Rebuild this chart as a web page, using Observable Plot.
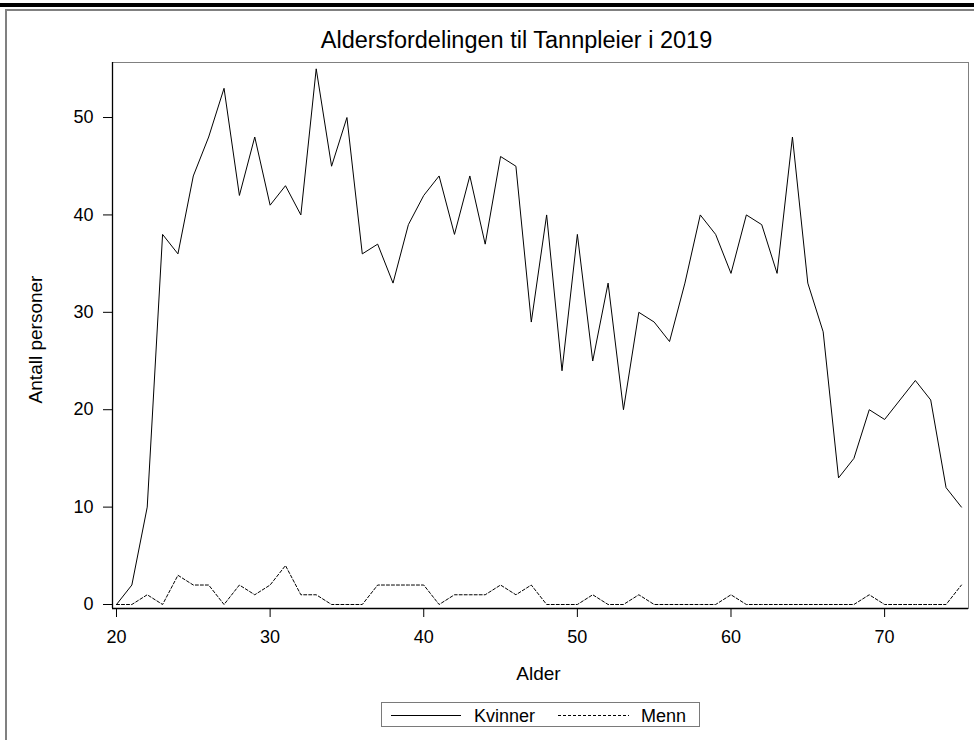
<!DOCTYPE html>
<html>
<head>
<meta charset="utf-8">
<script src="https://cdn.jsdelivr.net/npm/d3@7"></script>
<script src="https://cdn.jsdelivr.net/npm/@observablehq/plot@0.6"></script>
<style>
  html, body { margin: 0; padding: 0; background: #fff; }
  #wrap { position: relative; width: 974px; height: 740px; overflow: hidden; font-family: "Liberation Sans", Arial, sans-serif; }
  #wrap svg { display: block; }
  .bar-top { position: absolute; left: 0; top: 3px; width: 974px; height: 4px; background: #000; }
  .page-border { position: absolute; left: 5px; top: 9px; width: 980px; height: 740px; border-left: 2px solid #808080; border-top: 2px solid #808080; box-sizing: border-box; }
  #legend { position: absolute; left: 381px; top: 702px; width: 319px; height: 25px; border: 1px solid #7a7a7a; box-sizing: border-box; background: #fff; }
  #legend svg { position: absolute; left: 0; top: 0; }
</style>
</head>
<body>
<div id="wrap"></div>
<script>
// ---- Data ----
const titleText = "Aldersfordelingen til Tannpleier i 2019";
const xLabel = "Alder";
const yLabel = "Antall personer";
const seriesNames = ["Kvinner", "Menn"];

const ages = [20,21,22,23,24,25,26,27,28,29,30,31,32,33,34,35,36,37,38,39,40,41,42,43,44,45,46,47,
              48,49,50,51,52,53,54,55,56,57,58,59,60,61,62,63,64,65,66,67,68,69,70,71,72,73,74,75];

const kvinner = [0,2,10,38,36,44,48,53,42,48,41,43,40,55,45,50,36,37,33,39,42,44,38,44,37,46,45,29,
                 40,24,38,25,33,20,30,29,27,33,40,38,34,40,39,34,48,33,28,13,15,20,19,21,23,21,12,10];

const menn = [0,0,1,0,3,2,2,0,2,1,2,4,1,1,0,0,0,2,2,2,2,0,1,1,1,2,1,2,
              0,0,0,1,0,0,1,0,0,0,0,0,1,0,0,0,0,0,0,0,0,1,0,0,0,0,0,2];

const xTicks = [20, 30, 40, 50, 60, 70];
const yTicks = [0, 10, 20, 30, 40, 50];

// ---- Build ----
const kRows = ages.map((a, i) => ({age: a, n: kvinner[i], serie: seriesNames[0]}));
const mRows = ages.map((a, i) => ({age: a, n: menn[i], serie: seriesNames[1]}));

const xDomain = [19.74, 75.46];
const yDomain = [-0.41, 55.65];
const dashes = ["none", "3,2"];

const chart = Plot.plot({
  width: 974,
  height: 740,
  marginLeft: 112,
  marginRight: 6,
  marginTop: 62,
  marginBottom: 132,
  style: {fontFamily: "'Liberation Sans', Arial, sans-serif", fontSize: "18px", color: "#000", background: "#fff", overflow: "visible"},
  x: {domain: xDomain, ticks: xTicks, tickSize: 9, tickPadding: 13, label: null, tickFormat: d => String(d)},
  y: {domain: yDomain, ticks: yTicks, tickSize: 9, tickPadding: 10, label: null, tickFormat: d => String(d)},
  marks: [
    Plot.frame({stroke: "#808080", strokeWidth: 1}),
    Plot.ruleY([yDomain[0]], {stroke: "#000", strokeWidth: 1.3}),
    Plot.ruleX([xDomain[0]], {stroke: "#000", strokeWidth: 1.3}),
    Plot.line(kRows, {x: "age", y: "n", stroke: "#000", strokeWidth: 1, strokeDasharray: dashes[0]}),
    Plot.line(mRows, {x: "age", y: "n", stroke: "#000", strokeWidth: 1, strokeDasharray: dashes[1]}),
    Plot.text([titleText], {text: d => d, frameAnchor: "top", textAnchor: "middle", lineAnchor: "middle", dx: -24, dy: -22, fontSize: 23.5, fill: "#000"}),
    Plot.text([xLabel], {text: d => d, frameAnchor: "bottom", textAnchor: "middle", lineAnchor: "middle", dx: -2, dy: 65, fontSize: 19, fill: "#000"}),
    Plot.text([yLabel], {text: d => d, frameAnchor: "left", textAnchor: "middle", lineAnchor: "middle", rotate: -90, dx: -77, dy: 4, fontSize: 19, fill: "#000"})
  ]
});

const wrap = document.getElementById("wrap");
wrap.appendChild(chart);

const bar = document.createElement("div"); bar.className = "bar-top"; wrap.appendChild(bar);
const pb = document.createElement("div"); pb.className = "page-border"; wrap.appendChild(pb);

// Legend
const legend = document.createElement("div");
legend.id = "legend";
wrap.appendChild(legend);
const lsvg = d3.select(legend).append("svg").attr("width", 319).attr("height", 25)
  .style("font-family", "'Liberation Sans', Arial, sans-serif").style("font-size", "18px");
const itemX = [[9, 79, 92], [176, 247, 259]];
seriesNames.forEach((name, i) => {
  lsvg.append("line").attr("x1", itemX[i][0]).attr("x2", itemX[i][1]).attr("y1", 12.5).attr("y2", 12.5)
    .attr("stroke", "#000").attr("stroke-width", 1).attr("stroke-dasharray", dashes[i]);
  lsvg.append("text").attr("x", itemX[i][2]).attr("y", 19).attr("fill", "#000").text(name);
});
</script>
</body>
</html>
